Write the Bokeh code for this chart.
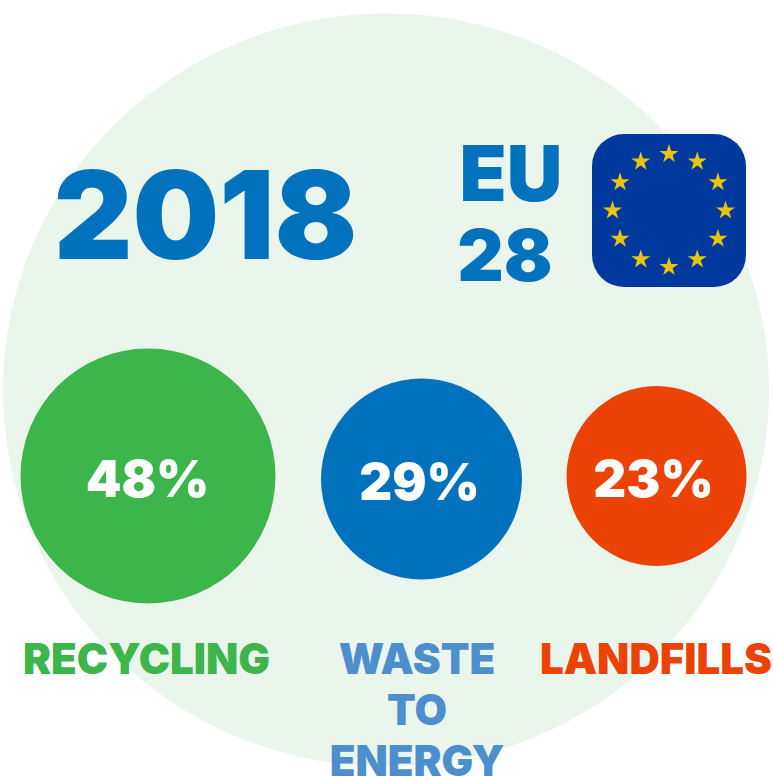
from bokeh.plotting import figure
from bokeh.core.properties import value
from bokeh.embed import file_html
from bokeh.resources import INLINE
import math

year = "2018"
region = ["EU", "28"]
share_labels = ["48%", "29%", "23%"]
bubble_r = [127.5, 100.5, 90]
categories = [["RECYCLING"], ["WASTE", "TO", "ENERGY"], ["LANDFILLS"]]
bubble_x = [147.5, 421, 656]
bubble_y = [475.5, 478.5, 475.5]
pct_x = [147, 419, 653]
pct_y = [478, 481, 478]
label_x = [146, 416.5, 655.5]
colors = ["#3CB54A", "#0071BC", "#EC4205"]
label_colors = ["#3CB54A", "#4D8FCC", "#EC4205"]
FONT = "Inter Black"

W, H = 773, 776
p = figure(width=W, height=H, x_range=(0, W), y_range=(H, 0), output_backend="svg",
           toolbar_location=None, min_border=0, outline_line_color=None,
           background_fill_color="#FFFFFF", border_fill_color="#FFFFFF",
           styles={"position": "absolute", "left": "0px", "top": "0px"})
p.xaxis.visible = False
p.yaxis.visible = False
p.grid.visible = False

p.ellipse(x=[385.5], y=[389.5], width=766, height=753, fill_color="#EAF5EC", line_color=None)

p.quad(left=[591.5], right=[745.5], top=[133.5], bottom=[286.5], fill_color="#00399E", line_color=None,
       border_radius=32)
n = 12
sx = [668.5 + 56.5 * math.sin(2 * math.pi * i / n) for i in range(n)]
sy = [210 - 56.5 * math.cos(2 * math.pi * i / n) for i in range(n)]
p.scatter(x=sx, y=sy, marker="star", size=20, fill_color="#E8C30F", line_color=None)

p.circle(x=bubble_x, y=bubble_y, radius=bubble_r, fill_color=colors, line_color=None)


def txt(x, y, s, size, color):
    p.text(x=[x], y=[y], text=[s], text_font=value(FONT), text_font_style="bold",
           text_font_size=f"{size}px", text_color=color, text_align="center",
           text_baseline="middle")


txt(205, 214, year, 122, "#0071BC")
txt(510.5, 172, region[0], 77, "#0071BC")
txt(504.5, 254, region[1], 72, "#0071BC")

for x, y, s in zip(pct_x, pct_y, share_labels):
    txt(x, y, s, 51, "#FFFFFF")

rows = [658, 709, 759.5]
for x, lines, c in zip(label_x, categories, label_colors):
    for y, s in zip(rows, lines):
        txt(x, y, s, 42, c)

open("out.html", "w").write(file_html(p, INLINE))
